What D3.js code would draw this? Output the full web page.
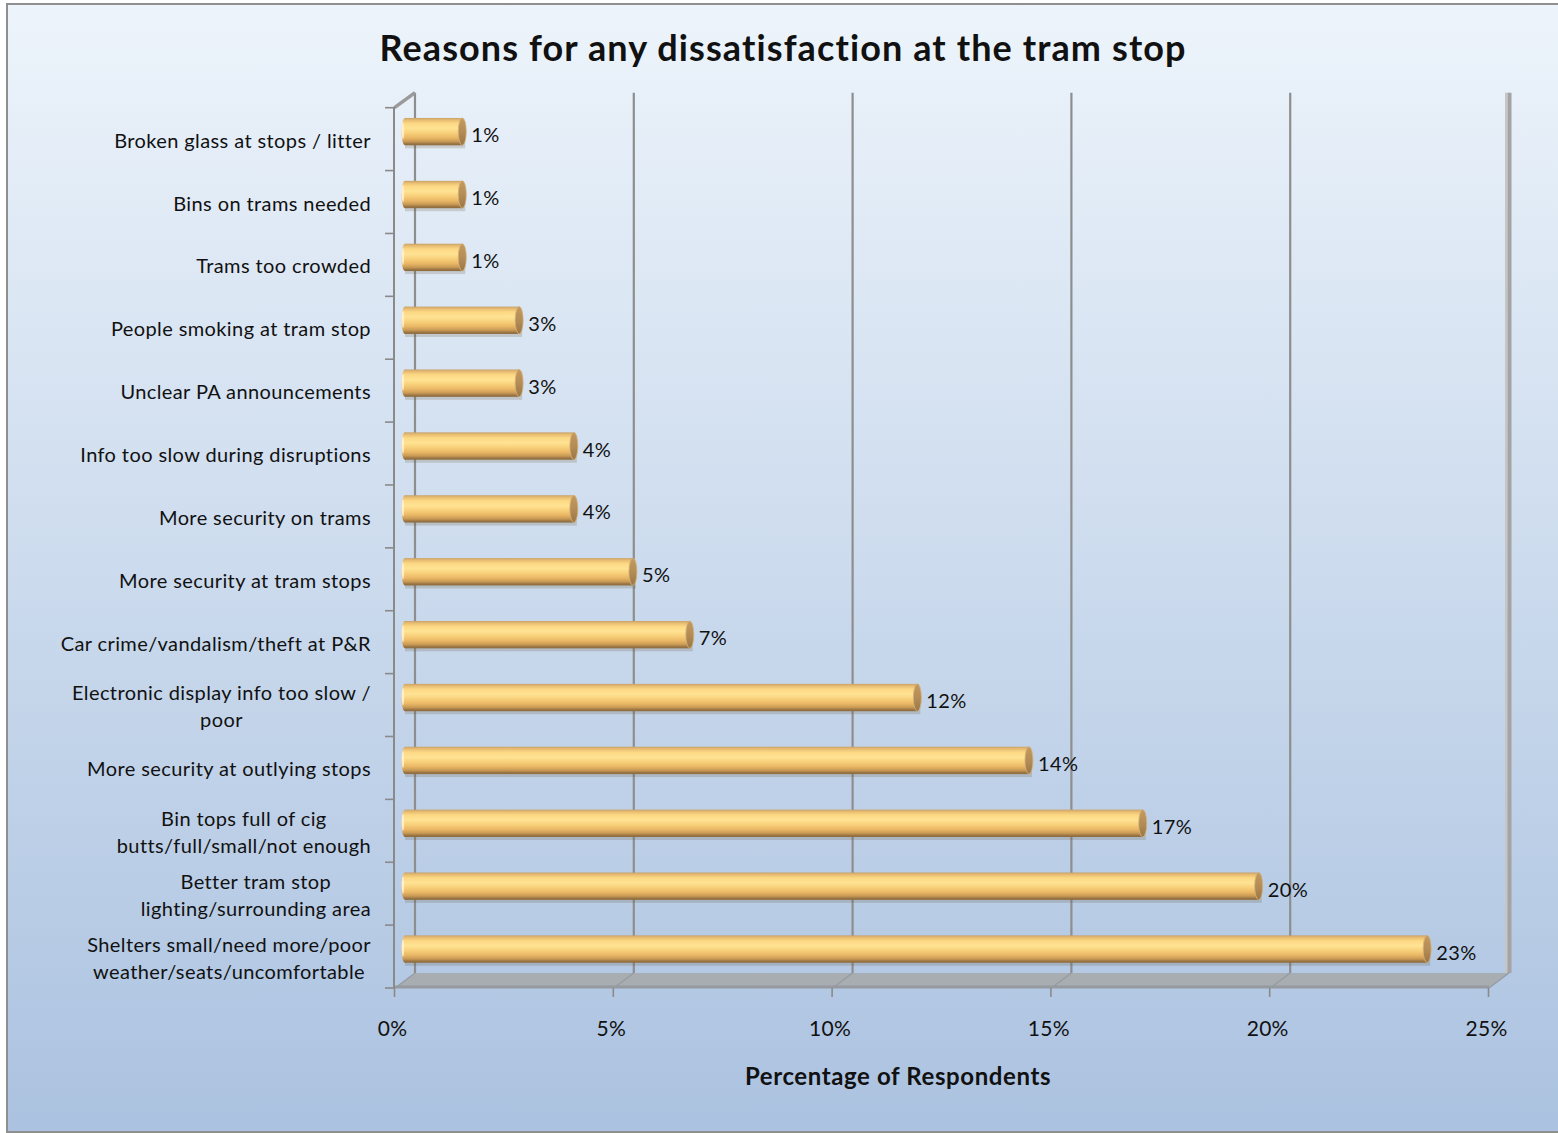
<!DOCTYPE html>
<html>
<head>
<meta charset="utf-8">
<script src="https://cdn.jsdelivr.net/npm/d3@7"></script>
<style>
  html, body { margin: 0; padding: 0; background: #ffffff; }
  svg { display: block; }
  text { font-family: Lato, "Open Sans", "Liberation Sans", sans-serif; fill: #111; }
</style>
</head>
<body>
<svg id="chart" width="1558" height="1133"></svg>
<script>
// Survey results: reasons given for dissatisfaction at the tram stop (% of respondents)
const categories = [
  "Broken glass at stops / litter",
  "Bins on trams needed",
  "Trams too crowded",
  "People smoking at tram stop",
  "Unclear PA announcements",
  "Info too slow during disruptions",
  "More security on trams",
  "More security at tram stops",
  "Car crime/vandalism/theft at P&R",
  "Electronic display info too slow /\npoor",
  "More security at outlying stops",
  "Bin tops full of cig\nbutts/full/small/not enough",
  "Better tram stop\nlighting/surrounding area",
  "Shelters small/need more/poor\nweather/seats/uncomfortable"
];
const values = [1.4, 1.4, 1.4, 2.7, 2.7, 3.95, 3.95, 5.3, 6.6, 11.8, 14.35, 16.95, 19.6, 23.45];
const xTicks = [0, 5, 10, 15, 20, 25];

const chartTitle = "Reasons for any dissatisfaction at the tram stop";
const xAxisTitle = "Percentage of Respondents";

const svg = d3.select("#chart");
const defs = svg.append("defs");

// Chart area background
const bg = defs.append("linearGradient").attr("id", "bgGrad")
  .attr("x1", 0).attr("y1", 0).attr("x2", 0).attr("y2", 1);
bg.append("stop").attr("offset", "0%").attr("stop-color", "#edf4fb");
bg.append("stop").attr("offset", "100%").attr("stop-color", "#abc2e0");

// Cylinder body shading (top to bottom)
const cyl = defs.append("linearGradient").attr("id", "cylGrad")
  .attr("x1", 0).attr("y1", 0).attr("x2", 0).attr("y2", 1);
[["0%", "#c9a168"], ["8%", "#e8bd72"], ["20%", "#fcd884"], ["38%", "#ffe393"],
 ["55%", "#f8d07a"], ["72%", "#eab866"], ["86%", "#c99a55"], ["94%", "#9c7644"], ["100%", "#8a6a3e"]]
  .forEach(([o, c]) => cyl.append("stop").attr("offset", o).attr("stop-color", c));

const cap = defs.append("linearGradient").attr("id", "capGrad")
  .attr("x1", 0).attr("y1", 0).attr("x2", 0).attr("y2", 1);
[["0%", "#c49a5e"], ["50%", "#b48c56"], ["100%", "#9a7746"]]
  .forEach(([o, c]) => cap.append("stop").attr("offset", o).attr("stop-color", c));

svg.append("rect")
  .attr("x", 7).attr("y", 4).attr("width", 1560).attr("height", 1128)
  .attr("fill", "url(#bgGrad)")
  .attr("stroke", "#8f8f8f").attr("stroke-width", 2);

// 3D plot geometry: front plane and back wall are offset by a depth vector
const depth = { dx: 20, dy: -15 };
const frontTop = 107.7, frontBottom = 988;

const x = d3.scaleLinear().domain([0, 25]).range([395, 1489]);
const y = d3.scaleBand().domain(categories).range([frontTop, frontBottom]).padding(0);

const xBack = v => x(v) + depth.dx;
const xMid = v => x(v) + depth.dx / 2;
const backTop = frontTop + depth.dy, backBottom = frontBottom + depth.dy;

const plot = svg.append("g");

// Floor
plot.append("path")
  .attr("d", `M${x(0)},${frontBottom} L${x(25)},${frontBottom} L${xBack(25)},${backBottom} L${xBack(0)},${backBottom} Z`)
  .attr("fill", "#a8adb2");
plot.selectAll("line.floorGrid").data(xTicks).join("line")
  .attr("class", "floorGrid")
  .attr("x1", d => xBack(d)).attr("y1", backBottom)
  .attr("x2", d => x(d)).attr("y2", frontBottom)
  .attr("stroke", "#969ba1").attr("stroke-width", 1.2);
plot.append("line")
  .attr("x1", x(0)).attr("x2", x(25)).attr("y1", frontBottom - 1).attr("y2", frontBottom - 1)
  .attr("stroke", "#959aa0").attr("stroke-width", 3);

// Back wall gridlines
plot.selectAll("line.grid").data(xTicks.slice(0, -1)).join("line")
  .attr("class", "grid")
  .attr("x1", d => xBack(d)).attr("x2", d => xBack(d))
  .attr("y1", backTop).attr("y2", backBottom)
  .attr("stroke", "#8e8e8e").attr("stroke-width", 2.2);

// Right side wall, seen edge-on
plot.append("rect").attr("x", xBack(25) - 4).attr("y", backTop)
  .attr("width", 2.5).attr("height", backBottom - backTop).attr("fill", "#c6c6c6");
plot.append("rect").attr("x", xBack(25) - 1.5).attr("y", backTop)
  .attr("width", 4).attr("height", backBottom - backTop).attr("fill", "#a4a4a4");

// Left wall edges
plot.append("path")
  .attr("d", `M${x(0) - 0.5},${frontTop} L${xBack(0)},${backTop}`)
  .attr("stroke", "#9a9a9a").attr("stroke-width", 3.5).attr("fill", "none");
plot.append("line")
  .attr("x1", x(0) - 1).attr("x2", x(0) - 1).attr("y1", frontTop).attr("y2", frontBottom)
  .attr("stroke", "#8a8a8a").attr("stroke-width", 2);

// Category ticks on the front left axis
const bounds = categories.map(c => y(c)).concat([frontBottom]);
plot.selectAll("line.ytick").data(bounds).join("line")
  .attr("class", "ytick")
  .attr("x1", x(0) - 10).attr("x2", x(0))
  .attr("y1", d => d).attr("y2", d => d)
  .attr("stroke", "#8a8a8a").attr("stroke-width", 1.6);

// Value axis at the front edge of the floor
const xAxis = d3.axisBottom(x).tickValues(xTicks).tickFormat(d => d + "%")
  .tickSize(9).tickPadding(24);
const gx = svg.append("g").attr("transform", `translate(-1,${frontBottom})`).call(xAxis);
gx.select(".domain").remove();
gx.selectAll(".tick line").attr("stroke", "#8a8a8a").attr("stroke-width", 1.6);
gx.selectAll(".tick text")
  .style("font-family", "Lato, 'Open Sans', sans-serif")
  .style("font-size", "21px").style("letter-spacing", "0.3px")
  .attr("fill", "#111").attr("dx", -2);

// Cylinders
const barH = y.bandwidth() * 0.435;
const rx = 4;
const bars = plot.selectAll("g.bar").data(categories.map((c, i) => ({ c, v: values[i] })))
  .join("g").attr("class", "bar")
  .attr("transform", d => `translate(0,${y(d.c) + y.bandwidth() / 2 + depth.dy / 2})`);

bars.append("rect")   // soft shadow under the cylinder
  .attr("x", xMid(0)).attr("y", -barH / 2 + 3)
  .attr("width", d => xMid(d.v) - xMid(0) - 1).attr("height", barH)
  .attr("fill", "#6b5a3e").attr("opacity", 0.22);
bars.append("ellipse")
  .attr("cx", xMid(0)).attr("cy", 0).attr("rx", rx - 0.5).attr("ry", barH / 2)
  .attr("fill", "url(#cylGrad)");
bars.append("ellipse")
  .attr("cx", xMid(0) - 2).attr("cy", -1).attr("rx", 1.2).attr("ry", barH / 2 - 5)
  .attr("fill", "#fff1d6").attr("opacity", 0.85);
bars.append("rect")
  .attr("x", xMid(0)).attr("y", -barH / 2)
  .attr("width", d => xMid(d.v) - rx - xMid(0)).attr("height", barH)
  .attr("fill", "url(#cylGrad)");
bars.append("ellipse")
  .attr("cx", d => xMid(d.v) - rx).attr("cy", 0).attr("rx", rx).attr("ry", barH / 2)
  .attr("fill", "url(#capGrad)").attr("stroke", "#d6b27a").attr("stroke-width", 0.8);

// Value labels
const fmt = d3.format(".0f");
bars.append("text")
  .attr("x", d => xMid(d.v) + 5).attr("y", 5.5)
  .attr("dominant-baseline", "middle")
  .style("font-size", "20px").style("letter-spacing", "0.4px")
  .text(d => fmt(d.v) + "%");

// Category labels: single lines right-aligned, wrapped lines centred on each other
const labelRight = 371, lineH = 27;
const catG = svg.append("g").style("font-size", "20px").style("letter-spacing", "0.4px");
categories.forEach(c => {
  const lines = c.split("\n");
  const cy = y(c) + y.bandwidth() / 2 + 3.5;
  const g = catG.append("g");
  const texts = lines.map((ln, i) => g.append("text")
    .attr("y", cy + (i - (lines.length - 1) / 2) * lineH)
    .attr("dominant-baseline", "middle")
    .text(ln));
  if (lines.length === 1) {
    texts[0].attr("x", labelRight).attr("text-anchor", "end");
  } else {
    const w = d3.max(texts, t => t.node().getComputedTextLength());
    texts.forEach(t => t.attr("x", labelRight - w / 2).attr("text-anchor", "middle"));
  }
});

// Titles
svg.append("text")
  .attr("x", 783).attr("y", 61).attr("text-anchor", "middle")
  .style("font-size", "36px").style("font-weight", "bold").style("letter-spacing", "1.1px")
  .text(chartTitle);
svg.append("text")
  .attr("x", 898).attr("y", 1085).attr("text-anchor", "middle")
  .style("font-size", "24px").style("font-weight", "bold").style("letter-spacing", "0.6px")
  .text(xAxisTitle);
</script>
</body>
</html>
